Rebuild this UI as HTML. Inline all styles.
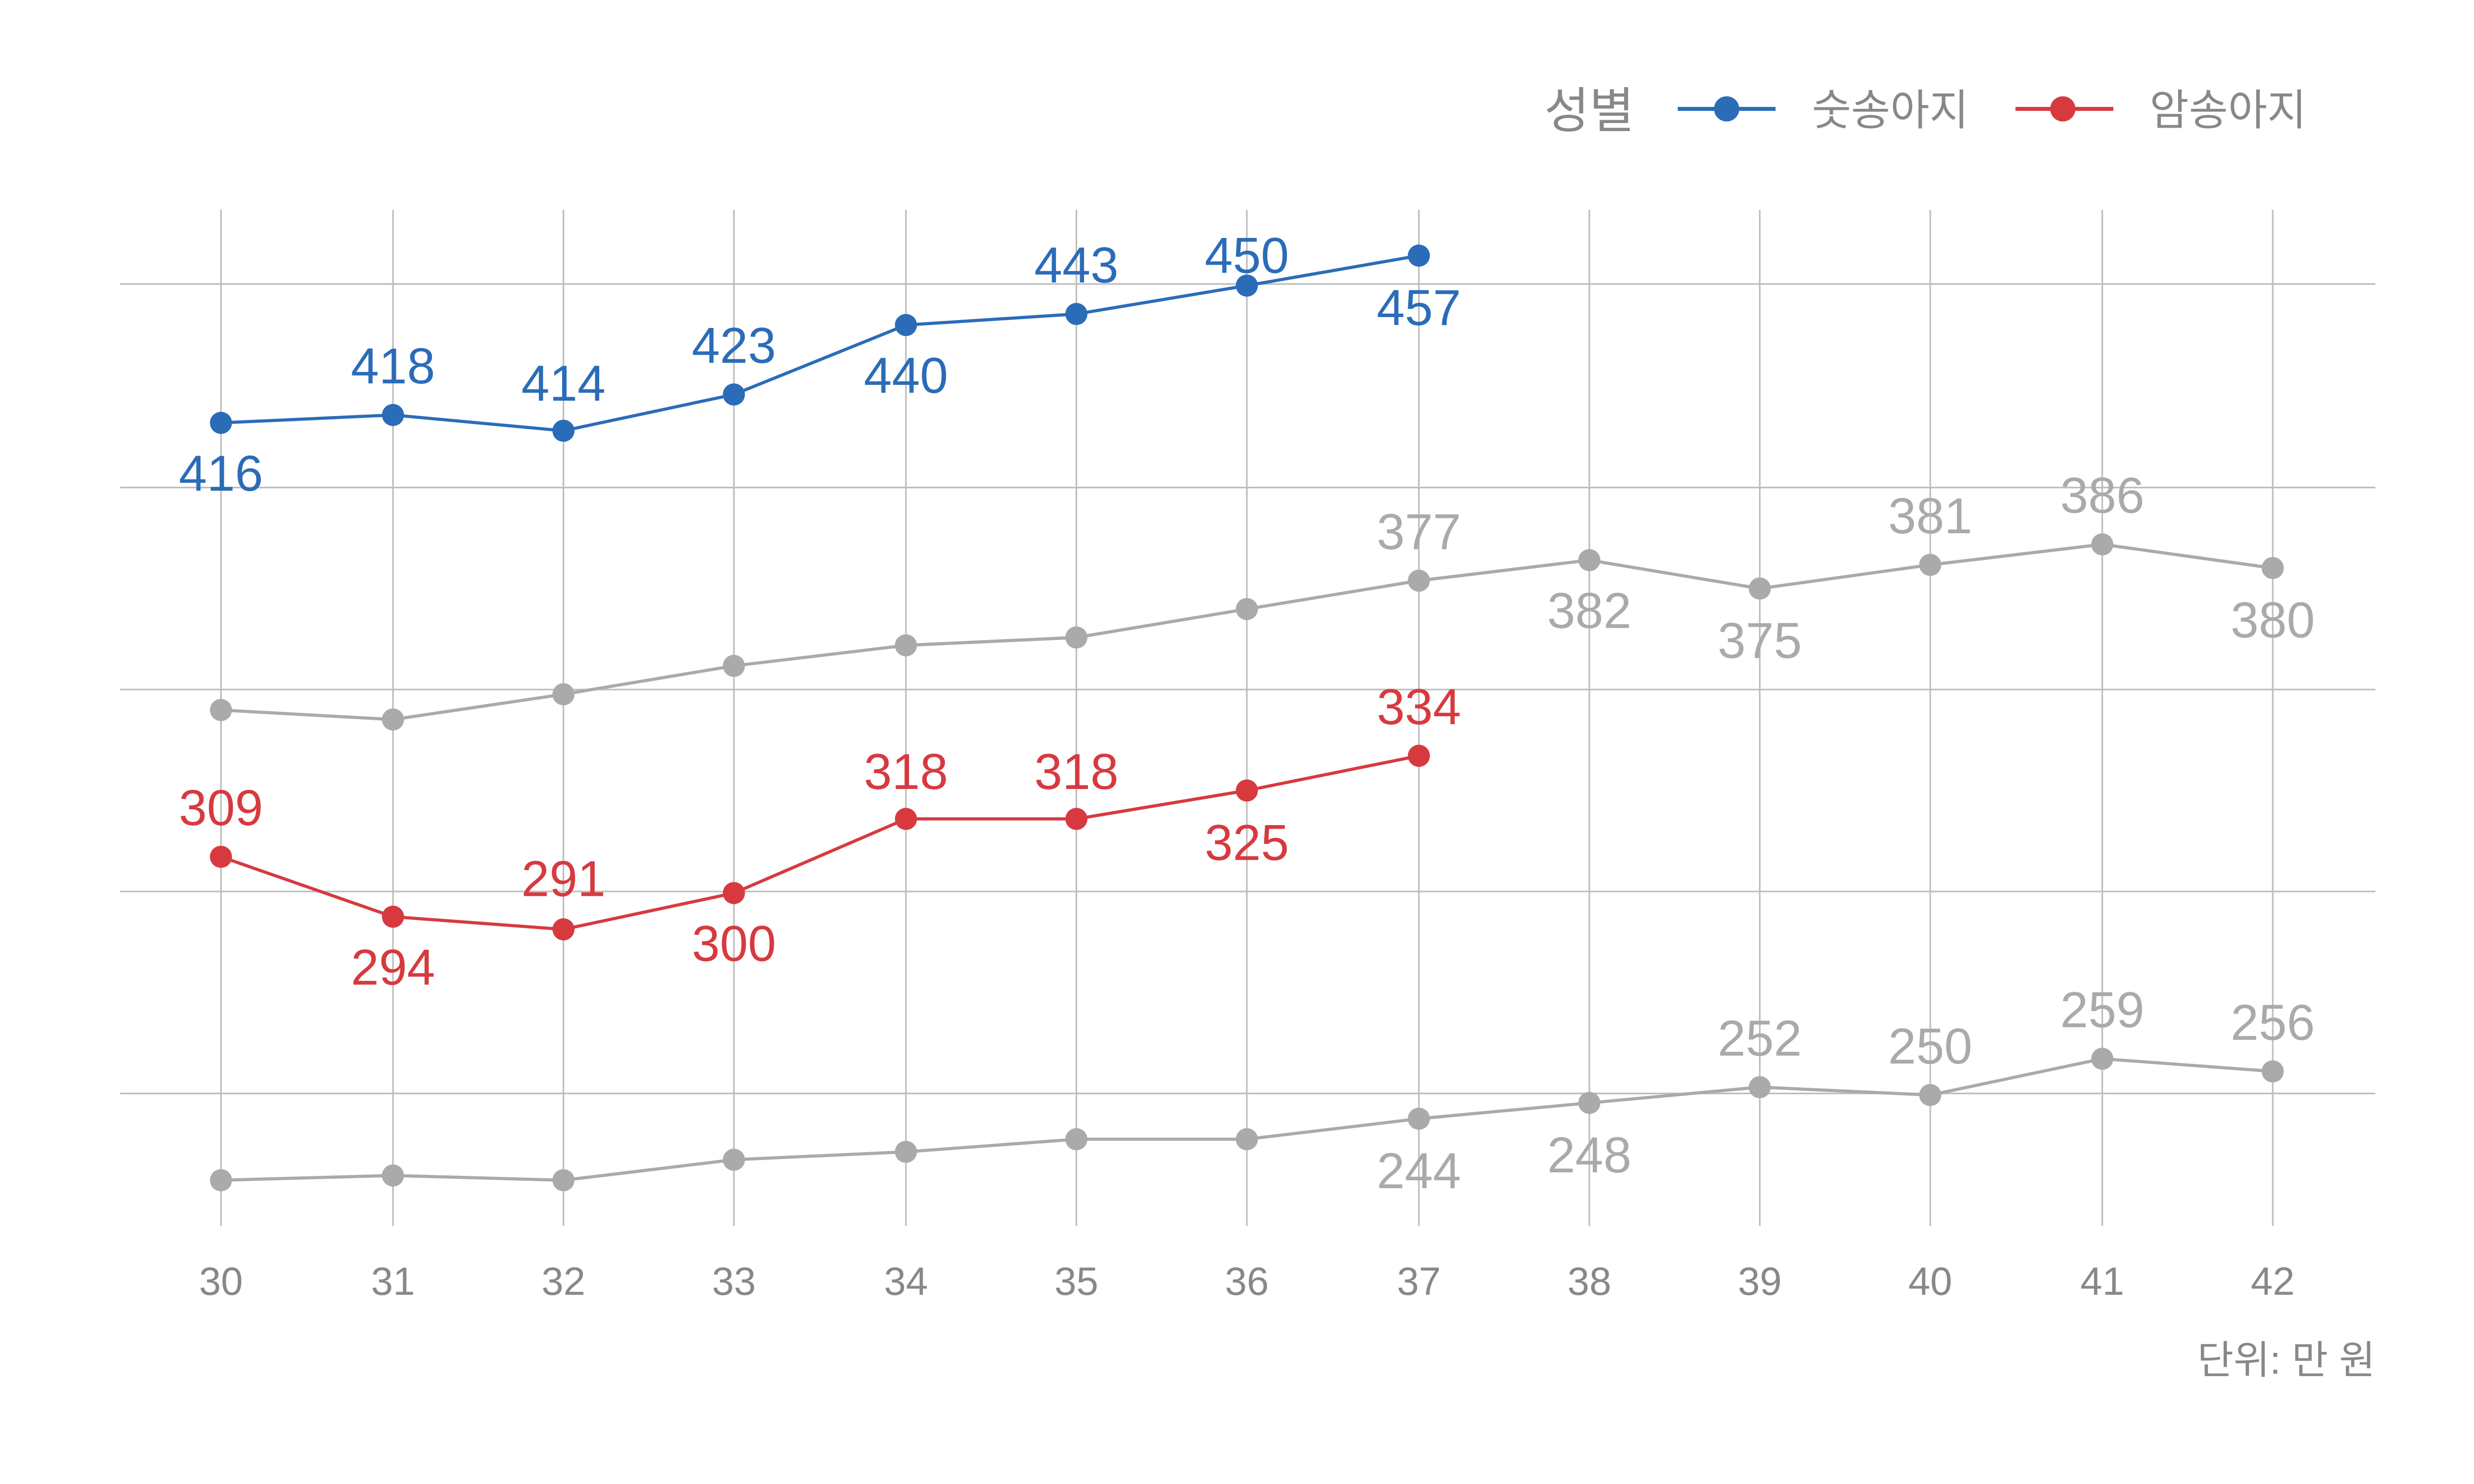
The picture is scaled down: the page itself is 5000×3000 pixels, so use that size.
<!DOCTYPE html>
<html><head><meta charset="utf-8"><style>
html,body{margin:0;padding:0;background:#fff;width:5000px;height:3000px;overflow:hidden}
svg{display:block}
text{font-family:"Liberation Sans","Noto Sans CJK KR",sans-serif}
</style></head><body>
<svg width="5000" height="3000" viewBox="0 0 1560 936" preserveAspectRatio="none" xmlns="http://www.w3.org/2000/svg">
<rect width="1560" height="936" fill="#fff"/>
<g transform="scale(0.9952)">
<g stroke="#bdbdbd" stroke-width="1">
<line x1="76" x2="1505" y1="180" y2="180"/><line x1="76" x2="1505" y1="309" y2="309"/>
<line x1="76" x2="1505" y1="437" y2="437"/><line x1="76" x2="1505" y1="565" y2="565"/>
<line x1="76" x2="1505" y1="693" y2="693"/>
<line x1="140" x2="140" y1="133" y2="777"/><line x1="249" x2="249" y1="133" y2="777"/>
<line x1="357" x2="357" y1="133" y2="777"/><line x1="465" x2="465" y1="133" y2="777"/>
<line x1="574" x2="574" y1="133" y2="777"/><line x1="682" x2="682" y1="133" y2="777"/>
<line x1="790" x2="790" y1="133" y2="777"/><line x1="899" x2="899" y1="133" y2="777"/>
<line x1="1007" x2="1007" y1="133" y2="777"/><line x1="1115" x2="1115" y1="133" y2="777"/>
<line x1="1223" x2="1223" y1="133" y2="777"/><line x1="1332" x2="1332" y1="133" y2="777"/>
<line x1="1440" x2="1440" y1="133" y2="777"/>
</g>
<g fill="none" stroke-width="2">
<polyline stroke="#aaaaaa" points="140,450 249,456 357,440 465,422 574,409 682,404 790,386 899,368 1007,355 1115,373 1223,358 1332,345 1440,360"/>
<polyline stroke="#aaaaaa" points="140,748 249,745 357,748 465,735 574,730 682,722 790,722 899,709 1007,699 1115,689 1223,694 1332,671 1440,679"/>
<polyline stroke="#2b6cb8" points="140,268 249,263 357,273 465,250 574,206 682,199 790,181 899,162"/>
<polyline stroke="#d63a3f" points="140,543 249,581 357,589 465,566 574,519 682,519 790,501 899,479"/>
</g>
<g fill="#aaaaaa">
<circle cx="140" cy="450" r="7"/><circle cx="249" cy="456" r="7"/><circle cx="357" cy="440" r="7"/><circle cx="465" cy="422" r="7"/><circle cx="574" cy="409" r="7"/><circle cx="682" cy="404" r="7"/><circle cx="790" cy="386" r="7"/><circle cx="899" cy="368" r="7"/><circle cx="1007" cy="355" r="7"/><circle cx="1115" cy="373" r="7"/><circle cx="1223" cy="358" r="7"/><circle cx="1332" cy="345" r="7"/><circle cx="1440" cy="360" r="7"/>
<circle cx="140" cy="748" r="7"/><circle cx="249" cy="745" r="7"/><circle cx="357" cy="748" r="7"/><circle cx="465" cy="735" r="7"/><circle cx="574" cy="730" r="7"/><circle cx="682" cy="722" r="7"/><circle cx="790" cy="722" r="7"/><circle cx="899" cy="709" r="7"/><circle cx="1007" cy="699" r="7"/><circle cx="1115" cy="689" r="7"/><circle cx="1223" cy="694" r="7"/><circle cx="1332" cy="671" r="7"/><circle cx="1440" cy="679" r="7"/>
</g>
<g fill="#2b6cb8"><circle cx="140" cy="268" r="7"/><circle cx="249" cy="263" r="7"/><circle cx="357" cy="273" r="7"/><circle cx="465" cy="250" r="7"/><circle cx="574" cy="206" r="7"/><circle cx="682" cy="199" r="7"/><circle cx="790" cy="181" r="7"/><circle cx="899" cy="162" r="7"/></g>
<g fill="#d63a3f"><circle cx="140" cy="543" r="7"/><circle cx="249" cy="581" r="7"/><circle cx="357" cy="589" r="7"/><circle cx="465" cy="566" r="7"/><circle cx="574" cy="519" r="7"/><circle cx="682" cy="519" r="7"/><circle cx="790" cy="501" r="7"/><circle cx="899" cy="479" r="7"/></g>
<g font-size="32" text-anchor="middle" dominant-baseline="central">
<g fill="#2b6cb8"><text x="140" y="300">416</text><text x="249" y="232">418</text><text x="357" y="243">414</text><text x="465" y="219">423</text><text x="574" y="238">440</text><text x="682" y="168">443</text><text x="790" y="162">450</text><text x="899" y="195">457</text></g>
<g fill="#d63a3f"><text x="140" y="512">309</text><text x="249" y="613">294</text><text x="357" y="557">291</text><text x="465" y="598">300</text><text x="574" y="489">318</text><text x="682" y="489">318</text><text x="790" y="534">325</text><text x="899" y="448">334</text></g>
<g fill="#aaaaaa"><text x="899" y="337">377</text><text x="1007" y="387">382</text><text x="1115" y="406">375</text><text x="1223" y="327">381</text><text x="1332" y="314">386</text><text x="1440" y="393">380</text>
<text x="899" y="742">244</text><text x="1007" y="732">248</text><text x="1115" y="658">252</text><text x="1223" y="663">250</text><text x="1332" y="640">259</text><text x="1440" y="648">256</text></g>
</g>
<g font-size="25" fill="#888" text-anchor="middle" dominant-baseline="central">
<text x="140" y="812">30</text><text x="249" y="812">31</text><text x="357" y="812">32</text><text x="465" y="812">33</text><text x="574" y="812">34</text><text x="682" y="812">35</text><text x="790" y="812">36</text><text x="899" y="812">37</text><text x="1007" y="812">38</text><text x="1115" y="812">39</text><text x="1223" y="812">40</text><text x="1332" y="812">41</text><text x="1440" y="812">42</text>
</g>
<text x="1505" y="862" font-size="25" fill="#888" text-anchor="end" dominant-baseline="central">단위: 만 원</text>
<text x="1007" y="70" font-size="31" fill="#888" text-anchor="middle" dominant-baseline="central">성별</text>
<line x1="1063" x2="1125" y1="69" y2="69" stroke="#2b6cb8" stroke-width="2.5"/><circle cx="1094" cy="69" r="8" fill="#2b6cb8"/>
<text x="1148" y="70" font-size="27" fill="#888" dominant-baseline="central">숫송아지</text>
<line x1="1277" x2="1339" y1="69" y2="69" stroke="#d63a3f" stroke-width="2.5"/><circle cx="1307" cy="69" r="8" fill="#d63a3f"/>
<text x="1362" y="70" font-size="27" fill="#888" dominant-baseline="central">암송아지</text>
</g>
</svg>
</body></html>
